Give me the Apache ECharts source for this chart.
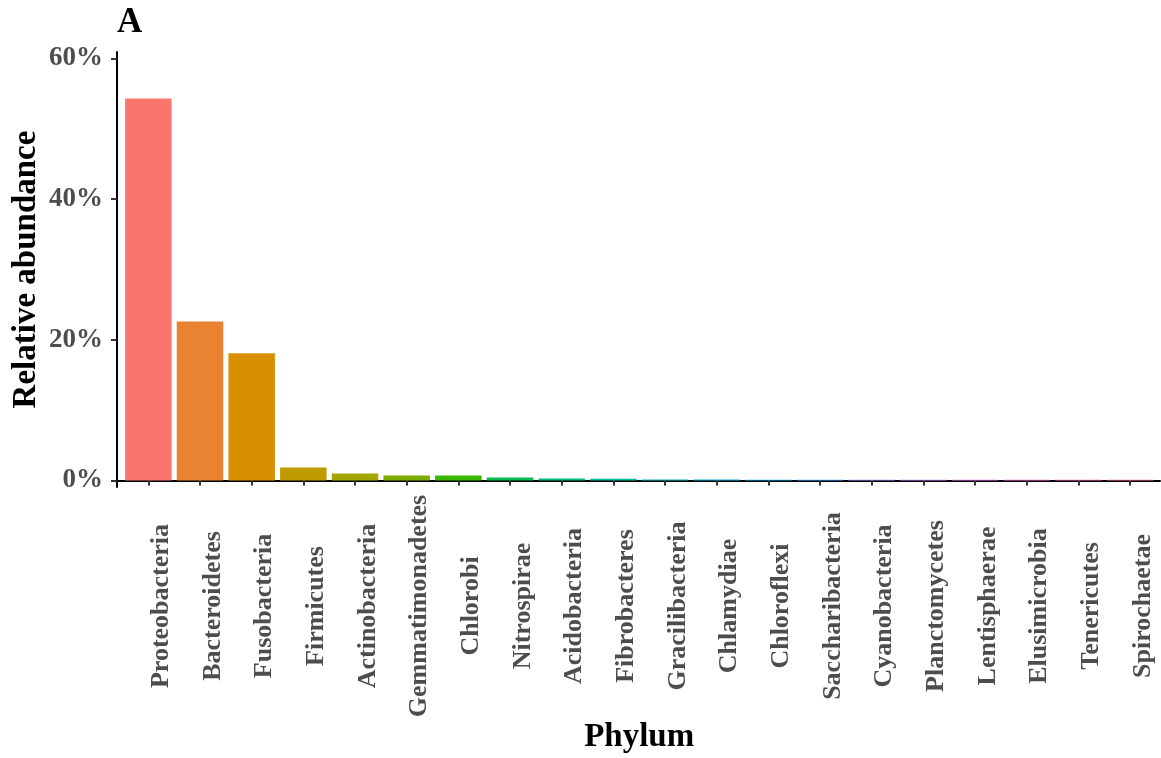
<!DOCTYPE html>
<html>
<head>
<meta charset="utf-8">
<script src="https://cdn.jsdelivr.net/npm/echarts@6/dist/echarts.min.js"></script>
<style>
  html, body { margin: 0; padding: 0; background: #ffffff; }
  #chart { width: 1161px; height: 758px; }
</style>
</head>
<body>
<div id="chart"></div>
<script>
// Phylum-level relative abundance (%)
const phyla = [
  'Proteobacteria', 'Bacteroidetes', 'Fusobacteria', 'Firmicutes', 'Actinobacteria',
  'Gemmatimonadetes', 'Chlorobi', 'Nitrospirae', 'Acidobacteria', 'Fibrobacteres',
  'Gracilibacteria', 'Chlamydiae', 'Chloroflexi', 'Saccharibacteria', 'Cyanobacteria',
  'Planctomycetes', 'Lentisphaerae', 'Elusimicrobia', 'Tenericutes', 'Spirochaetae'
];
const abundance = [
  54.3, 22.6, 18.1, 1.85, 1.0,
  0.71, 0.71, 0.43, 0.28, 0.24,
  0.13, 0.13, 0.12, 0.12, 0.11,
  0.11, 0.10, 0.10, 0.10, 0.10
];
const yTicks = [0, 20, 40, 60];
const palette = [
  '#F8766D', '#EA8331', '#D89000', '#C09B00', '#A3A500',
  '#7CAE00', '#39B600', '#00BB4E', '#00BF7D', '#00C1A3',
  '#00BFC4', '#00BAE0', '#00B0F6', '#35A2FF', '#9590FF',
  '#C77CFF', '#E76BF3', '#FA62DB', '#FF62BC', '#FF6C91'
];

const serif = "'Liberation Serif', 'Times New Roman', serif";
const yMin = -0.924, yMax = 60.924;

const chart = echarts.init(document.getElementById('chart'), null, { renderer: 'canvas' });

chart.setOption({
  backgroundColor: '#ffffff',
  animation: false,
  title: {
    text: 'A',
    left: 117,
    top: 5,
    padding: 0,
    textStyle: { fontFamily: serif, fontWeight: 'bold', fontSize: 35, color: '#000000' }
  },
  grid: [
    // frame grid: carries the two axis lines across the full panel
    { left: 117, right: 1, top: 52, bottom: 271, containLabel: false, outerBoundsMode: 'none' },
    // bar grid: category bands inset so outer bars keep a 0.6-band margin
    { left: 122.5, right: 5.1, top: 52, bottom: 271, containLabel: false, outerBoundsMode: 'none' }
  ],
  xAxis: [
    {
      gridIndex: 0,
      type: 'value',
      min: 0,
      max: 1,
      axisLine: { show: true, lineStyle: { color: '#000000', width: 2 } },
      axisTick: { show: false },
      axisLabel: { show: false },
      splitLine: { show: false }
    },
    {
      gridIndex: 1,
      type: 'category',
      data: phyla,
      name: 'Phylum',
      nameLocation: 'middle',
      nameGap: 234,
      nameMoveOverlap: false,
      nameTextStyle: { fontFamily: serif, fontWeight: 'bold', fontSize: 33, color: '#000000' },
      axisLine: { show: false },
      axisTick: { show: true, alignWithLabel: true, length: 5, lineStyle: { color: '#333333', width: 2 } },
      axisLabel: {
        interval: 0,
        rotate: 90,
        align: 'center',
        verticalAlign: 'top',
        margin: 119,
        fontFamily: serif,
        fontWeight: 'bold',
        fontSize: 26,
        color: '#4d4d4d'
      },
      splitLine: { show: false }
    }
  ],
  yAxis: [
    {
      gridIndex: 0,
      type: 'value',
      min: yMin,
      max: yMax,
      name: 'Relative abundance',
      nameLocation: 'middle',
      nameGap: 74,
      nameMoveOverlap: false,
      nameTextStyle: { fontFamily: serif, fontWeight: 'bold', fontSize: 33, color: '#000000' },
      axisLine: { show: true, lineStyle: { color: '#000000', width: 2 } },
      axisTick: { show: true, length: 6, customValues: yTicks, lineStyle: { color: '#333333', width: 2 } },
      axisLabel: {
        customValues: yTicks,
        formatter: '{value}%',
        margin: 14,
        fontFamily: serif,
        fontWeight: 'bold',
        fontSize: 27,
        color: '#4d4d4d'
      },
      splitLine: { show: false }
    },
    {
      gridIndex: 1,
      type: 'value',
      min: yMin,
      max: yMax,
      show: false,
      splitLine: { show: false }
    }
  ],
  series: [
    {
      type: 'bar',
      xAxisIndex: 1,
      yAxisIndex: 1,
      barCategoryGap: '10%',
      data: abundance.map((v, i) => ({ value: v, itemStyle: { color: palette[i] } }))
    }
  ]
});
</script>
</body>
</html>
